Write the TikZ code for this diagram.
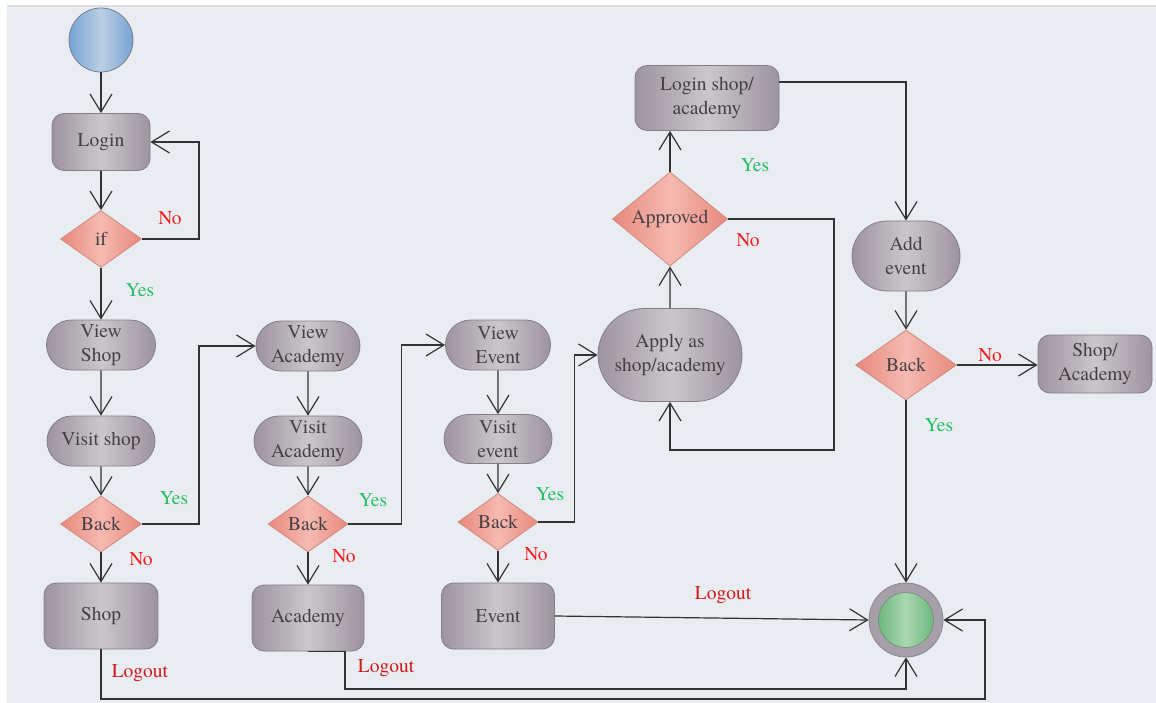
\documentclass[tikz,border=0pt]{standalone}
\usepackage{fontspec}
\newfontfamily\diagfont{texgyretermes}[Extension=.otf, UprightFont=*-regular]
\usetikzlibrary{arrows.meta,shapes.geometric,shapes.misc}

\definecolor{bgcol}{HTML}{E9ECF1}
\definecolor{topline}{HTML}{DCDDDF}
\definecolor{boxedge}{HTML}{9D949E}
\definecolor{boxmid}{HTML}{CBC6CC}
\definecolor{boxline}{HTML}{857C86}
\definecolor{boxtext}{HTML}{453E44}
\definecolor{decedge}{HTML}{E8887C}
\definecolor{decmid}{HTML}{F5BAB1}
\definecolor{decline}{HTML}{CF8B82}
\definecolor{startedge}{HTML}{77A3D3}
\definecolor{startmid}{HTML}{BACFE5}
\definecolor{startline}{HTML}{767C93}
\definecolor{ringfill}{HTML}{A69FA8}
\definecolor{ringline}{HTML}{8B848D}
\definecolor{endedge}{HTML}{6DB77D}
\definecolor{endmid}{HTML}{AAD8B1}
\definecolor{endline}{HTML}{6F8B74}
\definecolor{flow}{HTML}{333333}
\definecolor{yescol}{HTML}{1FBF5F}
\definecolor{nocol}{HTML}{F51A1A}
\definecolor{outcol}{HTML}{D01818}

\tikzset{
  basefont/.style={font=\diagfont\fontsize{19.5}{24}\selectfont},
  activity/.style={basefont, text=boxtext, draw=boxline, line width=0.8pt,
    left color=boxedge, right color=boxedge, middle color=boxmid,
    align=center, inner sep=0pt},
  boxnode/.style={activity, rectangle, rounded corners=12pt},
  pill/.style={activity, rounded rectangle},
  decision/.style={basefont, text=boxtext, draw=decline, line width=0.8pt,
    left color=decedge, right color=decedge, middle color=decmid,
    diamond, inner sep=0pt, align=center},
  flowline/.style={draw=flow, line width=1.2pt,
    -{Straight Barb[length=18pt,width=22pt,line width=1.2pt]}},
  yeslbl/.style={basefont, text=yescol, inner sep=0pt},
  nolbl/.style={basefont, text=nocol, inner sep=0pt},
  outlbl/.style={basefont, text=outcol, inner sep=0pt},
}

\begin{document}
\begin{tikzpicture}[x=1pt,y=-1pt]
  % canvas
  \useasboundingbox (0,0) rectangle (1156,703);
  \fill[white] (0,0) rectangle (1156,703);
  \fill[bgcol] (7,6) rectangle (1156,703);
  \fill[topline] (7,5) rectangle (1156,7);

  % start and end
  \node[circle, minimum size=64pt, inner sep=0pt, draw=startline, line width=0.8pt,
        left color=startedge, right color=startedge, middle color=startmid] (start) at (101,40) {};
  \node[circle, minimum size=74pt, inner sep=0pt, draw=ringline, line width=0.8pt,
        fill=ringfill] (end) at (906,620) {};
  \node[circle, minimum size=55pt, inner sep=0pt, draw=endline, line width=0.6pt,
        left color=endedge, right color=endedge, middle color=endmid] (endcore) at (906,620) {};

  % login column
  \node[boxnode, minimum width=98pt, minimum height=57pt] (login) at (101,142) {Login};
  \node[decision, minimum width=81pt, minimum height=57pt] (iff) at (101,239) {if};
  \node[pill, minimum width=109pt, minimum height=50pt] (viewshop) at (101,345) {View\\Shop};
  \node[pill, minimum width=108pt, minimum height=50pt] (visitshop) at (101,441) {Visit shop};
  \node[decision, minimum width=81pt, minimum height=56pt] (backa) at (101,524) {Back};
  \node[boxnode, minimum width=114pt, minimum height=66pt] (shop) at (101,616) {Shop};

  % academy column
  \node[pill, minimum width=104pt, minimum height=50pt] (viewacad) at (308,346) {View\\Academy};
  \node[pill, minimum width=108pt, minimum height=50pt] (visitacad) at (308,441) {Visit\\Academy};
  \node[decision, minimum width=80pt, minimum height=56pt] (backb) at (308,524) {Back};
  \node[boxnode, minimum width=112pt, minimum height=66pt] (academy) at (308,618) {Academy};

  % event column
  \node[pill, minimum width=105pt, minimum height=50pt] (viewevent) at (498,345) {View\\Event};
  \node[pill, minimum width=108pt, minimum height=49pt] (visitevent) at (498,439) {Visit\\event};
  \node[decision, minimum width=80pt, minimum height=57pt] (backc) at (498,522) {Back};
  \node[boxnode, minimum width=113pt, minimum height=66pt] (event) at (498,616) {Event};

  % application path
  \node[pill, minimum width=144pt, minimum height=93pt] (apply) at (670,355) {Apply as\\shop/academy};
  \node[decision, minimum width=115pt, minimum height=82pt] (approved) at (670,219) {Approved};
  \node[boxnode, minimum width=144pt, minimum height=65pt] (loginsa) at (707,98) {Login shop/\\academy};
  \node[pill, minimum width=108pt, minimum height=70pt] (addevent) at (906,256) {Add\\event};
  \node[decision, minimum width=101pt, minimum height=70pt] (backd) at (906,365) {Back};
  \node[boxnode, minimum width=114pt, minimum height=58pt] (shopacad) at (1095,364) {Shop/\\Academy};

  % connectors: login loop
  \draw[flowline] (start) -- (login);
  \draw[flowline] (login) -- (iff);
  \draw[flowline] (iff.east) -- ++(57,0) |- (login.east);
  \draw[flowline] (iff) -- (viewshop);

  % shop column
  \draw[flowline] (viewshop) -- (visitshop);
  \draw[flowline] (visitshop) -- (backa);
  \draw[flowline] (backa) -- (shop);
  \draw[flowline] (backa.east) -- ++(57,0) |- (viewacad.west);

  % academy column
  \draw[flowline] (viewacad) -- (visitacad);
  \draw[flowline] (visitacad) -- (backb);
  \draw[flowline] (backb) -- (academy);
  \draw[flowline] (backb.east) -- ++(53,0) |- (viewevent.west);

  % event column
  \draw[flowline] (viewevent) -- (visitevent);
  \draw[flowline] (visitevent) -- (backc);
  \draw[flowline] (backc) -- (event);
  \draw[flowline] (backc.east) -- ++(36,0) |- (apply.west);

  % application path
  \draw[flowline] (apply) -- (approved);
  \draw[flowline] (approved.north) -- (approved.north |- loginsa.south);
  \draw[flowline] (approved.east) -| ++(106,231) -| (apply.south);
  \draw[flowline] ([yshift=16pt]loginsa.east) -| (addevent.north);
  \draw[flowline] (addevent) -- (backd);
  \draw[flowline] (backd.east) -- (backd.east -| shopacad.west);
  \draw[flowline] (backd.south) -- (end.north);

  % logout paths
  \coordinate (shopturn) at (985,699);
  \coordinate (acadturn) at (906,689);
  \draw[flowline] (shop.south) |- (shopturn) |- (end.east);
  \draw[flowline] (academy.south) -- ++(37,0) |- (acadturn) -- (end.south);
  \draw[flowline] (event.east) -- (end.west);

  % branch labels
  \node[nolbl] (l1) at (170,218) {No};
  \node[yeslbl] (l2) at (140,290) {Yes};
  \node[yeslbl] (l3) at (174,498) {Yes};
  \node[nolbl] (l4) at (141,559) {No};
  \node[yeslbl] (l5) at (373,500) {Yes};
  \node[nolbl] (l6) at (344,556) {No};
  \node[yeslbl] (l7) at (550,494) {Yes};
  \node[nolbl] (l8) at (536,554) {No};
  \node[yeslbl] (l9) at (755,165) {Yes};
  \node[nolbl] (l10) at (748,240) {No};
  \node[nolbl] (l11) at (990,355) {No};
  \node[yeslbl] (l12) at (939,425) {Yes};
  \node[outlbl] (l13) at (140,673) {Logout};
  \node[outlbl] (l14) at (386,668) {Logout};
  \node[outlbl] (l15) at (723,595) {Logout};
\end{tikzpicture}
\end{document}
